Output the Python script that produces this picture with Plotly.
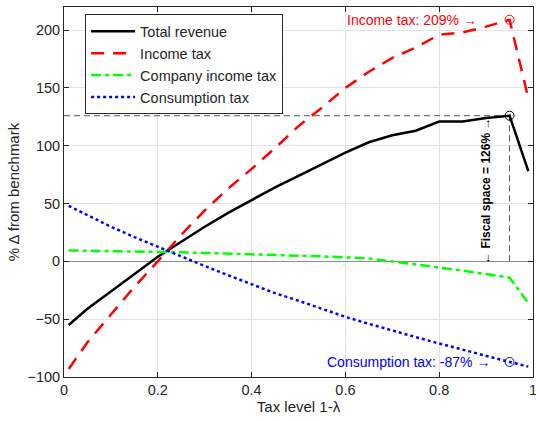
import plotly.graph_objects as go

# Tax level grid (1 - lambda)
tax_level = [0.01, 0.05, 0.10, 0.15, 0.20, 0.25, 0.30, 0.35, 0.40, 0.45, 0.50,
             0.55, 0.60, 0.65, 0.70, 0.75, 0.80, 0.85, 0.90, 0.95, 0.99]

# Percentage change from benchmark
total_revenue = [-55, -41, -26, -11, 4, 17, 30, 42, 53, 64, 74,
                 84, 94, 103, 109, 113, 121, 121, 124, 126, 78]
income_tax = [-93, -70, -46, -22, 0, 23, 44, 63, 80, 98, 117,
              133, 150, 164, 176, 185, 196, 198, 203, 209, 141]
company_income_tax = [9.5, 9.3, 9.0, 8.7, 8.3, 7.8, 7.3, 6.8, 6.2, 5.6, 5.0,
                      4.3, 3.5, 2.5, 0.0, -2.5, -5.0, -8.0, -11.0, -14.0, -36.0]
consumption_tax = [48, 40, 30, 21, 12.5, 4, -4, -12, -20, -27.5, -34,
                   -41, -48, -54, -60, -65.5, -71, -76.5, -82, -87, -91]

# Highlighted optimum
opt_level = 0.95
fiscal_space = 126
income_at_opt = 209
consumption_at_opt = -87

FONT = "Liberation Sans, Arial, sans-serif"
TXT = "#262626"

fig = go.Figure()

# Reference guides at the optimum
fig.add_trace(go.Scatter(x=[0, opt_level], y=[fiscal_space, fiscal_space], mode="lines",
                         line=dict(color="#555555", width=1, dash="6px,4px"),
                         showlegend=False, hoverinfo="skip"))
fig.add_trace(go.Scatter(x=[opt_level, opt_level], y=[0, fiscal_space], mode="lines",
                         line=dict(color="#555555", width=1, dash="6px,4px"),
                         showlegend=False, hoverinfo="skip"))

fig.add_trace(go.Scatter(x=tax_level, y=total_revenue, mode="lines", name="Total revenue",
                         line=dict(color="black", width=2.5)))
fig.add_trace(go.Scatter(x=tax_level, y=income_tax, mode="lines", name="Income tax",
                         line=dict(color="#ff0000", width=2.5, dash="13px,9px")))
fig.add_trace(go.Scatter(x=tax_level, y=company_income_tax, mode="lines", name="Company income tax",
                         line=dict(color="#00ff00", width=2.5, dash="10px,4px,4px,4px")))
fig.add_trace(go.Scatter(x=tax_level, y=consumption_tax, mode="lines", name="Consumption tax",
                         line=dict(color="#0000ff", width=2.5, dash="dot")))

# Circles at the optimum
for yv, col in [(income_at_opt, "#ff0000"), (fiscal_space, "black"), (consumption_at_opt, "#0000ff")]:
    fig.add_trace(go.Scatter(x=[opt_level], y=[yv], mode="markers",
                             marker=dict(symbol="circle-open", size=9, color=col, line=dict(width=1)),
                             showlegend=False, hoverinfo="skip"))

fig.add_annotation(x=0.885, y=income_at_opt, xanchor="right", yanchor="middle",
                   text=f"Income tax: {income_at_opt}% →", showarrow=False,
                   font=dict(family=FONT, size=14, color="#ff0000"))
fig.add_annotation(x=0.912, y=consumption_at_opt, xanchor="right", yanchor="middle",
                   text=f"Consumption tax: {consumption_at_opt}% →", showarrow=False,
                   font=dict(family=FONT, size=14, color="#0000ff"))
fig.add_annotation(x=0.9, y=fiscal_space / 2 - 2, textangle=-90,
                   text=f"<b>← Fiscal space = {fiscal_space}% →</b>", showarrow=False,
                   font=dict(family=FONT, size=12, color="black"))

axis_common = dict(showline=True, linecolor=TXT, linewidth=1, mirror="ticks",
                   ticks="inside", ticklen=5, tickcolor=TXT,
                   showgrid=True, gridcolor="#e3e3e3", gridwidth=1,
                   ticklabeloverflow="allow", automargin=False,
                   tickfont=dict(family=FONT, size=14.5, color=TXT))

fig.update_xaxes(range=[0, 1], tickvals=[0, 0.2, 0.4, 0.6, 0.8, 1],
                 ticktext=["0", "0.2", "0.4", "0.6", "0.8", "1"], zeroline=False,
                 title=dict(text="Tax level 1-λ", font=dict(family=FONT, size=15, color=TXT), standoff=4),
                 **axis_common)
fig.update_yaxes(range=[-100, 220], tickvals=[-100, -50, 0, 50, 100, 150, 200],
                 zeroline=True, zerolinecolor="#8c8c8c", zerolinewidth=1,
                 title=dict(text="% Δ from benchmark", font=dict(family=FONT, size=15, color=TXT), standoff=4),
                 **axis_common)

fig.update_layout(
    width=536, height=421,
    margin=dict(l=64, r=3, t=7, b=44, autoexpand=False),
    plot_bgcolor="white", paper_bgcolor="white",
    font=dict(family=FONT, size=14, color=TXT),
    legend=dict(x=0.045, y=0.98, xanchor="left", yanchor="top",
                bgcolor="white", bordercolor=TXT, borderwidth=1,
                font=dict(family=FONT, size=14.5, color=TXT),
                tracegroupgap=0, itemwidth=44),
)

fig.write_html("out.html")
